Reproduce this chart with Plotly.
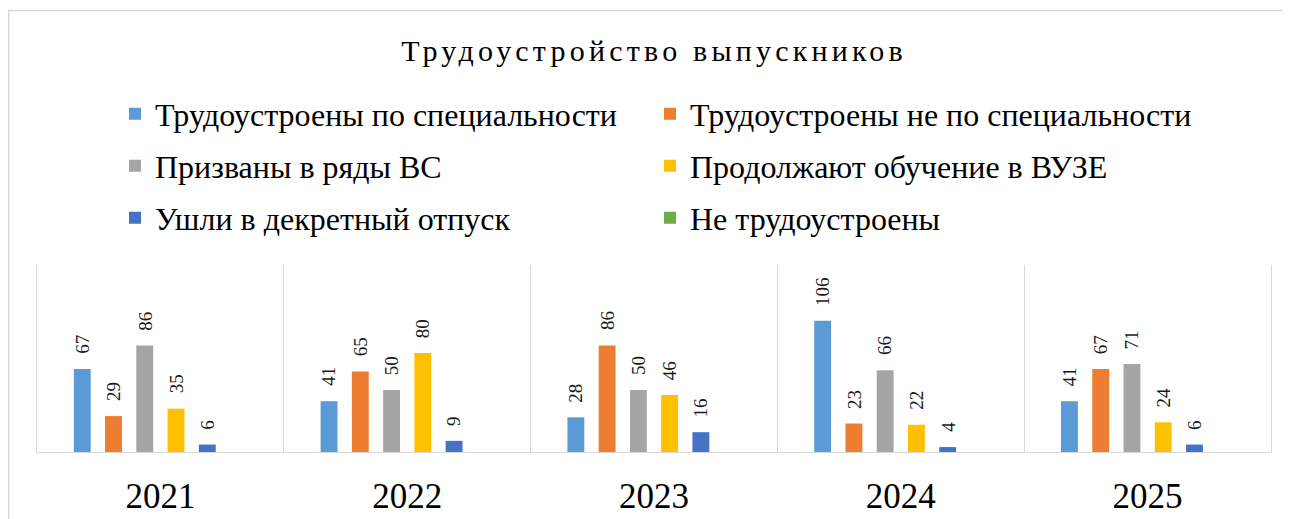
import plotly.graph_objects as go

years = ["2021", "2022", "2023", "2024", "2025"]
series_names = [
    "Трудоустроены по специальности",
    "Трудоустроены не по специальности",
    "Призваны в ряды ВС",
    "Продолжают обучение в ВУЗЕ",
    "Ушли в декретный отпуск",
    "Не трудоустроены",
]
s_spec = [67, 41, 28, 106, 41]
s_nespec = [29, 65, 86, 23, 67]
s_army = [86, 50, 50, 66, 71]
s_vuz = [35, 80, 46, 22, 24]
s_dekret = [6, 9, 16, 4, 6]
s_none = [0, 0, 0, 0, 0]
values = [s_spec, s_nespec, s_army, s_vuz, s_dekret, s_none]
colors = ["#5B9BD5", "#ED7D31", "#A5A5A5", "#FFC000", "#4472C4", "#70AD47"]

FONT = "Liberation Serif, Times New Roman, serif"

W, H = 1291, 519
L, R, T, B = 29, 28, 257, 75
pw, ph = W - L - R, H - T - B
BARGAP = 0.24
n_series = len(series_names)
slot_px = pw / len(years) * (1 - BARGAP) / n_series

legend_ids = ["legend"] + ["legend%d" % (k + 1) for k in range(1, n_series)]
legend_cols_px = [107, 642]
legend_rows_px = [106, 158, 210]

fig = go.Figure()
annotations = []
for i, (name, vals, col, lg) in enumerate(zip(series_names, values, colors, legend_ids)):
    fig.add_trace(go.Bar(
        x=years, y=vals, name=name, marker_color=col, marker_line_width=0,
        legend=lg, showlegend=True, hoverinfo="x+y+name",
    ))
    for j, v in enumerate(vals):
        if v:
            annotations.append(dict(
                x=j, y=v, xref="x", yref="y", text=str(v), showarrow=False,
                textangle=-90, xanchor="center", yanchor="bottom",
                xshift=(i - (n_series - 1) / 2) * slot_px, yshift=13,
                font=dict(family=FONT, size=19, color="#1a1a1a"),
            ))

legends = {}
for i, lg in enumerate(legend_ids):
    xpx = legend_cols_px[i % 2]
    ypx = legend_rows_px[i // 2]
    legends[lg] = dict(
        orientation="h", x=(xpx - L) / pw, xanchor="left",
        y=(H - B - ypx) / ph, yanchor="middle", visible=True,
        font=dict(family=FONT, size=32, color="#000000"), bgcolor="rgba(0,0,0,0)",
        itemclick=False, itemdoubleclick=False,
    )

fig.update_layout(
    width=W, height=H, showlegend=True,
    margin=dict(l=L, r=R, t=T, b=B, autoexpand=False),
    paper_bgcolor="white", plot_bgcolor="white",
    barmode="group", bargap=BARGAP, bargroupgap=0.46,
    title=dict(text="Трудоустройство выпускников", x=646 / W, xanchor="center",
               y=1 - 42 / H, yanchor="middle", yref="container",
               font=dict(family=FONT, size=30, color="#000000")),
    xaxis=dict(type="category", tickson="boundaries", showgrid=True, gridcolor="#d9d9d9",
               gridwidth=1.3, ticks="", showline=True, linecolor="#d9d9d9", linewidth=1.3,
               automargin=False, tickangle=0,
               tickfont=dict(family=FONT, size=35, color="#000000"), ticklabelstandoff=13),
    yaxis=dict(range=[0, 151], showgrid=False, zeroline=False, showticklabels=False,
               automargin=False,
               showline=True, mirror=True, linecolor="#d9d9d9", linewidth=1.3, ticks=""),
    annotations=annotations,
    shapes=[dict(type="rect", xref="paper", yref="paper",
                 x0=(0.75 - L) / pw, x1=(W + 40 - L) / pw,
                 y0=(H - B - (H + 40)) / ph, y1=(H - B - 2.5) / ph,
                 line=dict(color="#d9d9d9", width=1.5), fillcolor="rgba(0,0,0,0)", layer="below")],
)
fig.update_layout(**legends)

post = ("document.querySelectorAll('.gtitle').forEach(function(e){"
        "e.setAttribute('letter-spacing','4.2px');});")
fig.write_html("out.html", post_script=post)
